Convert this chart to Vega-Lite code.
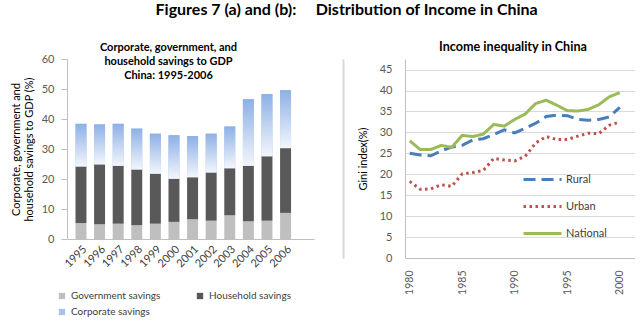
{
  "$schema": "https://vega.github.io/schema/vega-lite/v6.json",
  "background": "white",
  "padding": {"left": 10, "top": 2, "right": 0, "bottom": 0},
  "config": {"font": "Lato", "view": {"stroke": null}, "axis": {"labelColor": "#595959", "labelFontSize": 11, "domainColor": "#BFBFBF", "tickColor": "#BFBFBF", "titleColor": "#000000", "titleFontWeight": "normal", "titleFontSize": 11}},
  "title": {"text": "Figures 7 (a) and (b):\u00a0\u00a0\u00a0\u00a0 Distribution of Income in China", "fontSize": 16, "fontWeight": "bold", "color": "#000000", "anchor": "middle", "offset": 23, "dx": 24},
  "spacing": 29,
  "resolve": {"scale": {"color": "independent", "strokeDash": "independent", "x": "independent", "y": "independent"}, "legend": {"color": "independent", "strokeDash": "independent"}},
  "datasets": {
    "savings": [
      {"year": "1995", "type": "Government savings", "k": 1, "value": 5.3},
      {"year": "1995", "type": "Household savings", "k": 2, "value": 18.9},
      {"year": "1995", "type": "Corporate savings", "k": 3, "value": 14.2},
      {"year": "1996", "type": "Government savings", "k": 1, "value": 4.9},
      {"year": "1996", "type": "Household savings", "k": 2, "value": 20.0},
      {"year": "1996", "type": "Corporate savings", "k": 3, "value": 13.3},
      {"year": "1997", "type": "Government savings", "k": 1, "value": 5.1},
      {"year": "1997", "type": "Household savings", "k": 2, "value": 19.3},
      {"year": "1997", "type": "Corporate savings", "k": 3, "value": 14.0},
      {"year": "1998", "type": "Government savings", "k": 1, "value": 4.6},
      {"year": "1998", "type": "Household savings", "k": 2, "value": 18.6},
      {"year": "1998", "type": "Corporate savings", "k": 3, "value": 13.6},
      {"year": "1999", "type": "Government savings", "k": 1, "value": 5.1},
      {"year": "1999", "type": "Household savings", "k": 2, "value": 16.7},
      {"year": "1999", "type": "Corporate savings", "k": 3, "value": 13.3},
      {"year": "2000", "type": "Government savings", "k": 1, "value": 5.7},
      {"year": "2000", "type": "Household savings", "k": 2, "value": 14.4},
      {"year": "2000", "type": "Corporate savings", "k": 3, "value": 14.5},
      {"year": "2001", "type": "Government savings", "k": 1, "value": 6.6},
      {"year": "2001", "type": "Household savings", "k": 2, "value": 14.0},
      {"year": "2001", "type": "Corporate savings", "k": 3, "value": 13.7},
      {"year": "2002", "type": "Government savings", "k": 1, "value": 6.1},
      {"year": "2002", "type": "Household savings", "k": 2, "value": 16.1},
      {"year": "2002", "type": "Corporate savings", "k": 3, "value": 12.9},
      {"year": "2003", "type": "Government savings", "k": 1, "value": 7.9},
      {"year": "2003", "type": "Household savings", "k": 2, "value": 15.7},
      {"year": "2003", "type": "Corporate savings", "k": 3, "value": 13.9},
      {"year": "2004", "type": "Government savings", "k": 1, "value": 5.9},
      {"year": "2004", "type": "Household savings", "k": 2, "value": 18.5},
      {"year": "2004", "type": "Corporate savings", "k": 3, "value": 22.2},
      {"year": "2005", "type": "Government savings", "k": 1, "value": 6.1},
      {"year": "2005", "type": "Household savings", "k": 2, "value": 21.5},
      {"year": "2005", "type": "Corporate savings", "k": 3, "value": 20.7},
      {"year": "2006", "type": "Government savings", "k": 1, "value": 8.7},
      {"year": "2006", "type": "Household savings", "k": 2, "value": 21.6},
      {"year": "2006", "type": "Corporate savings", "k": 3, "value": 19.3}
    ],
    "gini": [
      {"year": 1980, "series": "Rural", "gini": 25.0}, {"year": 1981, "series": "Rural", "gini": 24.6}, {"year": 1982, "series": "Rural", "gini": 24.4},
      {"year": 1983, "series": "Rural", "gini": 25.6}, {"year": 1984, "series": "Rural", "gini": 26.5}, {"year": 1985, "series": "Rural", "gini": 26.9},
      {"year": 1986, "series": "Rural", "gini": 28.2}, {"year": 1987, "series": "Rural", "gini": 28.5}, {"year": 1988, "series": "Rural", "gini": 29.5},
      {"year": 1989, "series": "Rural", "gini": 30.6}, {"year": 1990, "series": "Rural", "gini": 29.9}, {"year": 1991, "series": "Rural", "gini": 31.0},
      {"year": 1992, "series": "Rural", "gini": 32.2}, {"year": 1993, "series": "Rural", "gini": 33.8}, {"year": 1994, "series": "Rural", "gini": 34.1},
      {"year": 1995, "series": "Rural", "gini": 34.0}, {"year": 1996, "series": "Rural", "gini": 33.1}, {"year": 1997, "series": "Rural", "gini": 32.9},
      {"year": 1998, "series": "Rural", "gini": 33.1}, {"year": 1999, "series": "Rural", "gini": 33.7}, {"year": 2000, "series": "Rural", "gini": 36.0},
      {"year": 1980, "series": "Urban", "gini": 18.3}, {"year": 1981, "series": "Urban", "gini": 16.4}, {"year": 1982, "series": "Urban", "gini": 16.5},
      {"year": 1983, "series": "Urban", "gini": 17.5}, {"year": 1984, "series": "Urban", "gini": 17.1}, {"year": 1985, "series": "Urban", "gini": 20.1},
      {"year": 1986, "series": "Urban", "gini": 20.4}, {"year": 1987, "series": "Urban", "gini": 20.9}, {"year": 1988, "series": "Urban", "gini": 23.8},
      {"year": 1989, "series": "Urban", "gini": 23.4}, {"year": 1990, "series": "Urban", "gini": 23.2}, {"year": 1991, "series": "Urban", "gini": 24.3},
      {"year": 1992, "series": "Urban", "gini": 27.5}, {"year": 1993, "series": "Urban", "gini": 29.0}, {"year": 1994, "series": "Urban", "gini": 28.3},
      {"year": 1995, "series": "Urban", "gini": 28.3}, {"year": 1996, "series": "Urban", "gini": 29.1}, {"year": 1997, "series": "Urban", "gini": 29.8},
      {"year": 1998, "series": "Urban", "gini": 29.7}, {"year": 1999, "series": "Urban", "gini": 31.7}, {"year": 2000, "series": "Urban", "gini": 32.5},
      {"year": 1980, "series": "National", "gini": 28.0}, {"year": 1981, "series": "National", "gini": 25.9}, {"year": 1982, "series": "National", "gini": 25.9},
      {"year": 1983, "series": "National", "gini": 26.9}, {"year": 1984, "series": "National", "gini": 26.4}, {"year": 1985, "series": "National", "gini": 29.3},
      {"year": 1986, "series": "National", "gini": 29.0}, {"year": 1987, "series": "National", "gini": 29.6}, {"year": 1988, "series": "National", "gini": 31.9},
      {"year": 1989, "series": "National", "gini": 31.5}, {"year": 1990, "series": "National", "gini": 33.1}, {"year": 1991, "series": "National", "gini": 34.4},
      {"year": 1992, "series": "National", "gini": 36.9}, {"year": 1993, "series": "National", "gini": 37.7}, {"year": 1994, "series": "National", "gini": 36.5},
      {"year": 1995, "series": "National", "gini": 35.2}, {"year": 1996, "series": "National", "gini": 35.1}, {"year": 1997, "series": "National", "gini": 35.5},
      {"year": 1998, "series": "National", "gini": 36.6}, {"year": 1999, "series": "National", "gini": 38.5}, {"year": 2000, "series": "National", "gini": 39.5}
    ]
  },
  "hconcat": [
    {
      "width": 247,
      "height": 180,
      "title": {"text": ["Corporate, government, and", "household savings to GDP", "China: 1995-2006"], "fontSize": 11, "fontWeight": "bold", "color": "#000000", "lineHeight": 14, "offset": -28, "anchor": "middle", "dx": -22},
      "data": {"name": "savings"},
      "transform": [{"stack": "value", "groupby": ["year"], "sort": [{"field": "k", "order": "ascending"}], "as": ["v0", "v1"]}],
      "encoding": {
        "x": {"field": "year", "type": "ordinal", "scale": {"paddingInner": 0.41, "paddingOuter": 0.845, "align": 0.27},
              "axis": {"title": null, "labelAngle": -45, "ticks": false, "labelPadding": 4, "labelColor": "#404040"}},
        "y": {"field": "v1", "type": "quantitative", "scale": {"domain": [0, 60], "nice": false},
              "axis": {"values": [0, 10, 20, 30, 40, 50, 60], "grid": false, "tickSize": 6, "labelPadding": 7,
                       "title": ["Corporate, government and", "household savings to GDP (%)"], "titlePadding": 7}},
        "y2": {"field": "v0"}
      },
      "layer": [
        {
          "mark": {"type": "bar"},
          "encoding": {
            "color": {"field": "type", "type": "nominal",
                      "scale": {"domain": ["Government savings", "Corporate savings", "Household savings"], "range": ["#BFBFBF", "#A9C3EC", "#595959"]},
                      "legend": {"title": null, "orient": "none", "legendX": -10, "legendY": 232, "columns": 2, "columnPadding": 34, "rowPadding": 6,
                                 "symbolType": "square", "symbolSize": 40, "symbolStrokeWidth": 0, "labelFontSize": 10, "labelColor": "#404040", "labelOffset": 4}}
          }
        },
        {
          "transform": [{"filter": "datum.type === 'Corporate savings'"}],
          "mark": {"type": "bar", "color": {"gradient": "linear", "x1": 0, "y1": 0, "x2": 0, "y2": 1,
                   "stops": [{"offset": 0, "color": "#8DB0E5"}, {"offset": 1, "color": "#F3F6FC"}]}}
        }
      ]
    },
    {
      "width": 230,
      "height": 199,
      "title": {"text": "Income inequality in China", "fontSize": 12.6, "fontWeight": "bold", "color": "#000000", "offset": 5, "anchor": "middle", "dx": -7},
      "data": {"name": "gini"},
      "encoding": {
        "x": {"field": "year", "type": "quantitative", "scale": {"domain": [1979.55, 2001.45], "nice": false, "zero": false},
              "axis": {"title": null, "values": [1980, 1985, 1990, 1995, 2000], "format": "d", "labelAngle": -90, "grid": false, "ticks": false, "labelPadding": 12, "labelAlign": "right", "labelBaseline": "middle", "labelFontSize": 10.5}}
      },
      "resolve": {"axis": {"y": "independent"}},
      "layer": [
        {
          "mark": {"type": "line", "strokeWidth": 3},
          "encoding": {
            "y": {"field": "gini", "type": "quantitative", "scale": {"domain": [0, 47.53], "nice": false},
                  "axis": {"title": "Gini index(%)", "values": [0, 5, 10, 15, 20, 25, 30, 35, 40, 45], "grid": true, "gridColor": "#D9D9D9", "ticks": false, "labelPadding": 13, "titlePadding": 11}},
            "color": {"field": "series", "type": "nominal", "sort": ["Rural", "Urban", "National"],
                      "scale": {"domain": ["Rural", "Urban", "National"], "range": ["#4A7EBB", "#C0504D", "#9BBB59"]},
                      "legend": {"title": null, "orient": "none", "legendX": 117, "legendY": 100, "symbolType": "stroke", "symbolSize": 1444, "symbolStrokeWidth": 3,
                                 "labelFontSize": 11, "labelColor": "#404040", "rowPadding": 0, "labelOffset": 3}},
            "strokeDash": {"field": "series", "type": "nominal", "sort": ["Rural", "Urban", "National"],
                           "scale": {"domain": ["Rural", "Urban", "National"], "range": [[12, 6], [2.5, 3.5], [1, 0]]},
                           "legend": {"title": null, "orient": "none", "legendX": 117, "legendY": 100, "symbolType": "stroke", "symbolSize": 1444, "symbolStrokeWidth": 3,
                                      "labelFontSize": 11, "labelColor": "#404040", "rowPadding": 0, "labelOffset": 3}}
          }
        },
        {
          "mark": {"type": "line", "opacity": 0},
          "encoding": {
            "y": {"field": "gini", "type": "quantitative",
                  "axis": {"orient": "left", "offset": 62, "title": null, "labels": false, "ticks": false, "grid": false, "domainColor": "#D9D9D9", "domainWidth": 2}},
            "detail": {"field": "series"}
          }
        }
      ]
    }
  ]
}
